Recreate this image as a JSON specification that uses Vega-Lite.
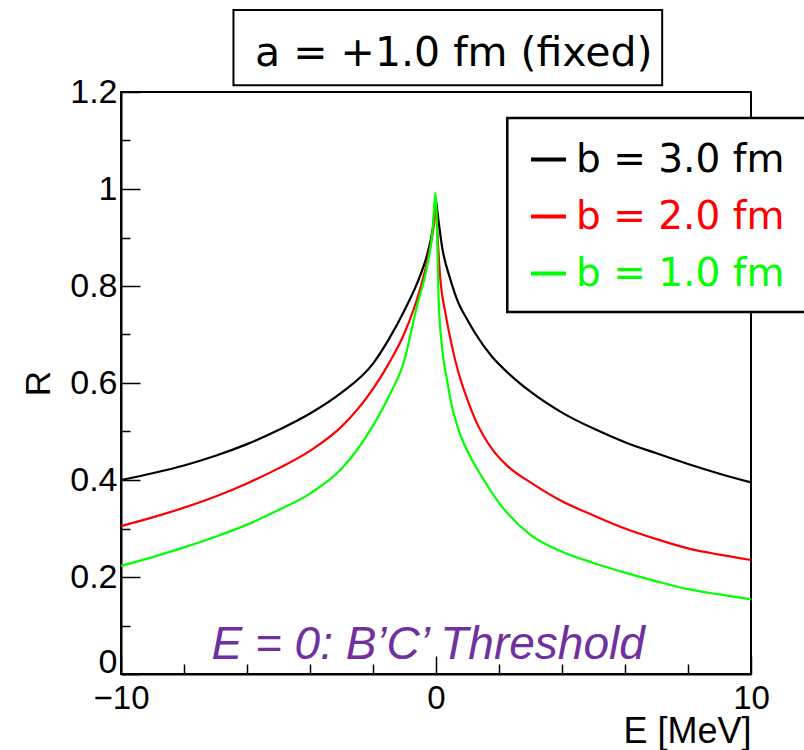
{
  "$schema": "https://vega.github.io/schema/vega-lite/v6.json",
  "width": 630,
  "height": 582,
  "autosize": {"type": "none"},
  "padding": {"left": 121, "top": 92, "right": 53, "bottom": 76},
  "background": "white",
  "config": {
    "view": {"stroke": "black", "strokeWidth": 2},
    "axis": {"grid": false}
  },
  "datasets": {
    "curves": [
      {"E": -10, "R": 0.400, "b": "b = 3.0 fm"},
      {"E": -9, "R": 0.414, "b": "b = 3.0 fm"},
      {"E": -8, "R": 0.430, "b": "b = 3.0 fm"},
      {"E": -7, "R": 0.450, "b": "b = 3.0 fm"},
      {"E": -6, "R": 0.474, "b": "b = 3.0 fm"},
      {"E": -5, "R": 0.503, "b": "b = 3.0 fm"},
      {"E": -4, "R": 0.537, "b": "b = 3.0 fm"},
      {"E": -3, "R": 0.580, "b": "b = 3.0 fm"},
      {"E": -2, "R": 0.640, "b": "b = 3.0 fm"},
      {"E": -1.5, "R": 0.690, "b": "b = 3.0 fm"},
      {"E": -1, "R": 0.750, "b": "b = 3.0 fm"},
      {"E": -0.5, "R": 0.822, "b": "b = 3.0 fm"},
      {"E": -0.3, "R": 0.860, "b": "b = 3.0 fm"},
      {"E": -0.1, "R": 0.920, "b": "b = 3.0 fm"},
      {"E": 0, "R": 0.976, "b": "b = 3.0 fm"},
      {"E": 0.05, "R": 0.950, "b": "b = 3.0 fm"},
      {"E": 0.2, "R": 0.878, "b": "b = 3.0 fm"},
      {"E": 0.45, "R": 0.815, "b": "b = 3.0 fm"},
      {"E": 0.72, "R": 0.764, "b": "b = 3.0 fm"},
      {"E": 1.0, "R": 0.730, "b": "b = 3.0 fm"},
      {"E": 1.25, "R": 0.702, "b": "b = 3.0 fm"},
      {"E": 1.78, "R": 0.654, "b": "b = 3.0 fm"},
      {"E": 2.3, "R": 0.620, "b": "b = 3.0 fm"},
      {"E": 3.0, "R": 0.582, "b": "b = 3.0 fm"},
      {"E": 4.0, "R": 0.539, "b": "b = 3.0 fm"},
      {"E": 5.0, "R": 0.506, "b": "b = 3.0 fm"},
      {"E": 6.0, "R": 0.478, "b": "b = 3.0 fm"},
      {"E": 7.0, "R": 0.455, "b": "b = 3.0 fm"},
      {"E": 8.0, "R": 0.433, "b": "b = 3.0 fm"},
      {"E": 9.0, "R": 0.413, "b": "b = 3.0 fm"},
      {"E": 10, "R": 0.395, "b": "b = 3.0 fm"},

      {"E": -10, "R": 0.305, "b": "b = 2.0 fm"},
      {"E": -9, "R": 0.323, "b": "b = 2.0 fm"},
      {"E": -8, "R": 0.343, "b": "b = 2.0 fm"},
      {"E": -7, "R": 0.366, "b": "b = 2.0 fm"},
      {"E": -6, "R": 0.393, "b": "b = 2.0 fm"},
      {"E": -5, "R": 0.424, "b": "b = 2.0 fm"},
      {"E": -4, "R": 0.460, "b": "b = 2.0 fm"},
      {"E": -3, "R": 0.510, "b": "b = 2.0 fm"},
      {"E": -2, "R": 0.588, "b": "b = 2.0 fm"},
      {"E": -1.5, "R": 0.640, "b": "b = 2.0 fm"},
      {"E": -1, "R": 0.703, "b": "b = 2.0 fm"},
      {"E": -0.5, "R": 0.795, "b": "b = 2.0 fm"},
      {"E": -0.3, "R": 0.845, "b": "b = 2.0 fm"},
      {"E": -0.1, "R": 0.910, "b": "b = 2.0 fm"},
      {"E": 0, "R": 0.957, "b": "b = 2.0 fm"},
      {"E": 0.05, "R": 0.900, "b": "b = 2.0 fm"},
      {"E": 0.14, "R": 0.812, "b": "b = 2.0 fm"},
      {"E": 0.3, "R": 0.744, "b": "b = 2.0 fm"},
      {"E": 0.51, "R": 0.675, "b": "b = 2.0 fm"},
      {"E": 0.72, "R": 0.620, "b": "b = 2.0 fm"},
      {"E": 1.0, "R": 0.565, "b": "b = 2.0 fm"},
      {"E": 1.25, "R": 0.524, "b": "b = 2.0 fm"},
      {"E": 1.8, "R": 0.462, "b": "b = 2.0 fm"},
      {"E": 2.3, "R": 0.427, "b": "b = 2.0 fm"},
      {"E": 3.0, "R": 0.395, "b": "b = 2.0 fm"},
      {"E": 4.0, "R": 0.356, "b": "b = 2.0 fm"},
      {"E": 5.0, "R": 0.327, "b": "b = 2.0 fm"},
      {"E": 6.0, "R": 0.300, "b": "b = 2.0 fm"},
      {"E": 7.0, "R": 0.278, "b": "b = 2.0 fm"},
      {"E": 8.0, "R": 0.259, "b": "b = 2.0 fm"},
      {"E": 9.0, "R": 0.246, "b": "b = 2.0 fm"},
      {"E": 10, "R": 0.235, "b": "b = 2.0 fm"},

      {"E": -10, "R": 0.223, "b": "b = 1.0 fm"},
      {"E": -9, "R": 0.241, "b": "b = 1.0 fm"},
      {"E": -8, "R": 0.261, "b": "b = 1.0 fm"},
      {"E": -7, "R": 0.283, "b": "b = 1.0 fm"},
      {"E": -6, "R": 0.308, "b": "b = 1.0 fm"},
      {"E": -5, "R": 0.338, "b": "b = 1.0 fm"},
      {"E": -4, "R": 0.372, "b": "b = 1.0 fm"},
      {"E": -3, "R": 0.423, "b": "b = 1.0 fm"},
      {"E": -2, "R": 0.512, "b": "b = 1.0 fm"},
      {"E": -1.5, "R": 0.572, "b": "b = 1.0 fm"},
      {"E": -1, "R": 0.648, "b": "b = 1.0 fm"},
      {"E": -0.6, "R": 0.760, "b": "b = 1.0 fm"},
      {"E": -0.3, "R": 0.835, "b": "b = 1.0 fm"},
      {"E": -0.1, "R": 0.920, "b": "b = 1.0 fm"},
      {"E": -0.02, "R": 0.992, "b": "b = 1.0 fm"},
      {"E": 0.04, "R": 0.900, "b": "b = 1.0 fm"},
      {"E": 0.08, "R": 0.778, "b": "b = 1.0 fm"},
      {"E": 0.19, "R": 0.675, "b": "b = 1.0 fm"},
      {"E": 0.35, "R": 0.606, "b": "b = 1.0 fm"},
      {"E": 0.51, "R": 0.551, "b": "b = 1.0 fm"},
      {"E": 0.72, "R": 0.503, "b": "b = 1.0 fm"},
      {"E": 1.03, "R": 0.455, "b": "b = 1.0 fm"},
      {"E": 1.35, "R": 0.418, "b": "b = 1.0 fm"},
      {"E": 2.0, "R": 0.353, "b": "b = 1.0 fm"},
      {"E": 3.0, "R": 0.287, "b": "b = 1.0 fm"},
      {"E": 4.0, "R": 0.252, "b": "b = 1.0 fm"},
      {"E": 5.0, "R": 0.229, "b": "b = 1.0 fm"},
      {"E": 6.0, "R": 0.209, "b": "b = 1.0 fm"},
      {"E": 7.0, "R": 0.191, "b": "b = 1.0 fm"},
      {"E": 8.0, "R": 0.175, "b": "b = 1.0 fm"},
      {"E": 9.0, "R": 0.164, "b": "b = 1.0 fm"},
      {"E": 10, "R": 0.154, "b": "b = 1.0 fm"}
    ]
  },
  "layer": [
    {
      "data": {"values": [{}]},
      "mark": {"type": "rect", "fill": "white", "stroke": "black", "strokeWidth": 2.5, "clip": false},
      "encoding": {
        "x": {"datum": 2.263},
        "x2": {"datum": 12},
        "y": {"datum": 1.1464},
        "y2": {"datum": 0.7464}
      }
    },
    {
      "data": {"name": "curves"},
      "mark": {"type": "line", "strokeWidth": 2.2, "interpolate": "monotone"},
      "encoding": {
        "x": {
          "field": "E",
          "type": "quantitative",
          "scale": {"domain": [-10, 10], "nice": false, "zero": false},
          "axis": {
            "orient": "bottom",
            "values": [-10, -9, -8, -7, -6, -5, -4, -3, -2, -1, 0, 1, 2, 3, 4, 5, 6, 7, 8, 9, 10],
            "labelExpr": "datum.value % 5 === 0 ? datum.label : ''",
            "tickSize": {"condition": {"test": "datum.value % 5 === 0", "value": -18}, "value": -10},
            "tickColor": "black",
            "tickWidth": 1.5,
            "domainColor": "black",
            "domainWidth": 2,
            "labelFont": "Liberation Sans",
            "labelFontSize": 33,
            "labelColor": "black",
            "labelPadding": 26,
            "labelFlush": false,
            "labelOverlap": false,
            "title": "E [MeV]",
            "titleFont": "Liberation Sans",
            "titleFontSize": 36,
            "titleFontWeight": "normal",
            "titleColor": "black",
            "titleAnchor": "end",
            "titleAlign": "right",
            "titleBaseline": "alphabetic",
            "titleX": 630,
            "titleY": 68
          }
        },
        "y": {
          "field": "R",
          "type": "quantitative",
          "scale": {"domain": [0, 1.2], "nice": false, "zero": false},
          "axis": {
            "orient": "left",
            "values": [0, 0.05, 0.1, 0.15, 0.2, 0.25, 0.3, 0.35, 0.4, 0.45, 0.5, 0.55, 0.6, 0.65, 0.7, 0.75, 0.8, 0.85, 0.9, 0.95, 1, 1.05, 1.1, 1.15, 1.2],
            "labelExpr": "abs(datum.value * 5 - round(datum.value * 5)) < 0.000001 ? format(datum.value, '~g') : ''",
            "tickSize": {"condition": {"test": "abs(datum.value * 5 - round(datum.value * 5)) < 0.000001", "value": -19}, "value": -9},
            "tickColor": "black",
            "tickWidth": 1.5,
            "domainColor": "black",
            "domainWidth": 2,
            "labelFont": "Liberation Sans",
            "labelFontSize": 34,
            "labelColor": "black",
            "labelPadding": 23,
            "labelOffset": {"condition": {"test": "datum.value === 0", "value": -12}, "value": 0},
            "labelFlush": false,
            "labelOverlap": false,
            "title": "R",
            "titleFont": "Liberation Sans",
            "titleFontSize": 35,
            "titleFontWeight": "normal",
            "titleColor": "black",
            "titleX": -83,
            "titleY": 291,
            "titleAlign": "center",
            "titleBaseline": "middle"
          }
        },
        "color": {
          "field": "b",
          "type": "nominal",
          "scale": {"domain": ["b = 3.0 fm", "b = 2.0 fm", "b = 1.0 fm"], "range": ["#000000", "#ff0000", "#00ff00"]},
          "legend": {
            "title": null,
            "orient": "none",
            "legendX": 386,
            "legendY": 26,
            "padding": 22,
            "symbolType": "stroke",
            "symbolSize": 1225,
            "symbolStrokeWidth": 4,
            "labelFont": "DejaVu Sans",
            "labelFontSize": 39,
            "labelColor": {"expr": "scale('color', datum.value)"},
            "labelOffset": 8,
            "rowPadding": 17,
            "labelLimit": 400
          }
        }
      }
    },
    {
      "data": {"values": [{}]},
      "mark": {"type": "rect", "fill": "white", "stroke": "black", "strokeWidth": 2, "clip": false},
      "encoding": {
        "x": {"datum": -6.43},
        "x2": {"datum": 7.18},
        "y": {"datum": 1.369},
        "y2": {"datum": 1.214}
      }
    },
    {
      "data": {"values": [{}]},
      "mark": {
        "type": "text",
        "text": "a = +1.0 fm (fixed)",
        "font": "DejaVu Sans",
        "fontSize": 41,
        "color": "black",
        "align": "center",
        "baseline": "alphabetic",
        "clip": false
      },
      "encoding": {
        "x": {"datum": 0.565},
        "y": {"datum": 1.2536}
      }
    },
    {
      "data": {"values": [{}]},
      "mark": {
        "type": "text",
        "text": "E = 0: B\u2019C\u2019 Threshold",
        "font": "Liberation Sans",
        "fontSize": 46,
        "fontStyle": "italic",
        "fontWeight": "normal",
        "color": "#7030A0",
        "align": "center",
        "baseline": "alphabetic"
      },
      "encoding": {
        "x": {"datum": -0.25},
        "y": {"datum": 0.031}
      }
    }
  ]
}
